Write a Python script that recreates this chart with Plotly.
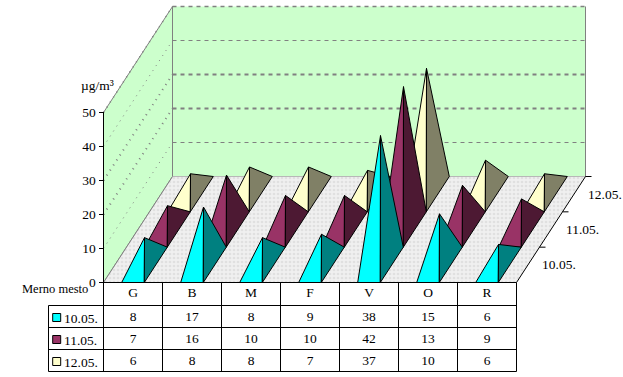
import plotly.graph_objects as go

categories = ["G", "B", "M", "F", "V", "O", "R"]
series_names = ["10.05.", "11.05.", "12.05."]
values_1005 = [8, 17, 8, 9, 38, 15, 6]
values_1105 = [7, 16, 10, 10, 42, 13, 9]
values_1205 = [6, 8, 8, 7, 37, 10, 6]
y_ticks = [0, 10, 20, 30, 40, 50]
series_values = [values_1005, values_1105, values_1205]
front_colors = ["#00FFFF", "#993366", "#FFFFCC"]
side_colors = ["#008080", "#4D1933", "#808066"]
grid_widths = [1, 2, 2, 1, 1.5]

W, H = 623, 377
PX_CAT = 59.0        # pixels per category
PX_VAL = 3.4         # pixels per value unit
X0, Y0 = 103.5, 282.5  # pixel position of the origin
DEP_X = 23.0 / PX_CAT      # oblique shift per series
DEP_Y = 35.33 / PX_VAL
BAR = 0.383
FONT = "Liberation Serif"
FS = 13.5
N = len(categories)
NS = len(series_names)
YMAX = y_ticks[-1]


def P(cat, dep, val):
    return cat + dep * DEP_X, val + dep * DEP_Y


def tx(px):
    return (px - X0) / PX_CAT


def ty(py):
    return (Y0 - py) / PX_VAL


fig = go.Figure()


def poly(points, fill=None, line=None, width=1, dash=None, closed=True, pattern=None):
    xs = [p[0] for p in points]
    ys = [p[1] for p in points]
    if closed:
        xs.append(xs[0])
        ys.append(ys[0])
    kw = dict(fillpattern=pattern) if pattern else {}
    fig.add_trace(go.Scatter(
        x=xs, y=ys, mode="lines", hoverinfo="skip", showlegend=False,
        cliponaxis=False, fill="toself" if fill else None,
        fillcolor=fill,
        line=dict(color=line or "rgba(0,0,0,0)", width=width, dash=dash, simplify=False),
        **kw,
    ))


GRAY = "#808080"
WALL = "#CCFFCC"
# walls and floor
poly([P(0, 0, 0), P(0, NS, 0), P(0, NS, YMAX), P(0, 0, YMAX)], WALL, GRAY)
poly([P(0, NS, YMAX), P(0, NS, 0), P(N, NS, 0), P(N, NS, YMAX)], WALL, GRAY, closed=False)
poly([P(0, 0, 0), P(N, 0, 0), P(N, NS, 0), P(0, NS, 0)], "#EDECEC", None,
     pattern=dict(shape=".", fgcolor="#E0E0E0", bgcolor="#F0F0F0", size=4, solidity=0.35, fillmode="replace"))
poly([P(0, 0, 0), P(0, NS, 0)], None, GRAY, closed=False)
poly([P(N, 0, 0), P(N, NS, 0)], None, "#000000", closed=False)

# gridlines
for v, gw in zip(y_ticks[1:], grid_widths):
    poly([P(0, 0, v), P(0, NS, v)], None, GRAY, dash="1px,5px", closed=False, width=gw)
    poly([P(0, NS, v), P(N, NS, v)], None, GRAY, dash="4px,4px", closed=False, width=gw)

# pyramids, back row first
for k in reversed(range(NS)):
    for i in range(N):
        v = series_values[k][i]
        l = i + 0.5 - BAR / 2
        r = i + 0.5 + BAR / 2
        apex = P(i + 0.5, k + 0.5, v)
        fl, fr, br = P(l, k, 0), P(r, k, 0), P(r, k + 1, 0)
        poly([fl, fr, apex], front_colors[k], "#000000")
        poly([fr, br, apex], side_colors[k], "#000000")

# y axis line
poly([(0, 0), (0, YMAX)], None, "#000000", closed=False)

# depth axis ticks and labels
for k in range(NS):
    px_, py_ = P(N, k + 1, 0)
    poly([(px_, py_), (px_ + 6 / PX_CAT, py_)], None, "#000000", closed=False)
    lx, ly = P(N, k + 0.5, 0)
    fig.add_annotation(x=lx + 31 / PX_CAT, y=ly, text=series_names[k], showarrow=False,
                       font=dict(family=FONT, size=FS, color="#000000"))

# data table
row_edges = [ty(305.5), ty(327.5), ty(349.5), ty(371.5)]
row_left = tx(48.5)
poly([(0, 0), (N, 0)], None, "#000000", closed=False)
for c in range(N + 1):
    poly([(c, 0), (c, row_edges[-1])], None, "#000000", closed=False)
poly([(row_left, row_edges[0]), (row_left, row_edges[-1])], None, "#000000", closed=False)
for e in row_edges:
    poly([(row_left, e), (N, e)], None, "#000000", closed=False)

TEXT_NUDGE = 1.5 / PX_VAL
for k in range(NS):
    yc = (row_edges[k] + row_edges[k + 1]) / 2
    fig.add_trace(go.Scatter(
        x=[i + 0.5 for i in range(N)], y=[yc - TEXT_NUDGE] * N, mode="text",
        text=[str(v) for v in series_values[k]], cliponaxis=False,
        textfont=dict(family=FONT, size=FS, color="#000000"),
        hoverinfo="skip", showlegend=False,
    ))
    fig.add_trace(go.Scatter(
        x=[tx(56.7)], y=[yc - 1 / PX_VAL], mode="markers", cliponaxis=False,
        marker=dict(symbol="square", size=8, color=front_colors[k],
                    line=dict(color="#000000", width=1)),
        hoverinfo="skip", showlegend=False,
    ))
    fig.add_annotation(x=tx(62), y=yc - TEXT_NUDGE, text=series_names[k], xanchor="left", showarrow=False,
                       font=dict(family=FONT, size=FS, color="#000000"))

fig.add_annotation(x=tx(90), y=ty(289), text="Merno mesto", xanchor="right", showarrow=False,
                   font=dict(family=FONT, size=12.5, color="#000000"))
fig.add_annotation(x=tx(79), y=ty(85), text="µg/m³", xanchor="left", showarrow=False,
                   font=dict(family=FONT, size=FS, color="#000000"))

fig.update_layout(
    width=W, height=H, margin=dict(l=0, r=0, t=0, b=0),
    paper_bgcolor="#FFFFFF", plot_bgcolor="rgba(0,0,0,0)", showlegend=False,
    xaxis=dict(
        domain=[0, 1], range=[tx(0), tx(W)], showgrid=False, zeroline=False, automargin=False,
        anchor="free", position=(H - Y0) / H,
        showline=False, tickmode="array", tickvals=[i + 0.5 for i in range(N)],
        ticktext=categories, ticks="", tickfont=dict(family=FONT, size=FS, color="#000000"),
        fixedrange=True,
    ),
    yaxis=dict(
        domain=[0, 1], range=[ty(H), ty(0)], showgrid=False, zeroline=False, automargin=False,
        anchor="free", position=X0 / W,
        showline=False, tickmode="array", tickvals=y_ticks, ticks="outside", ticklen=5,
        tickcolor="#000000", tickfont=dict(family=FONT, size=FS, color="#000000"),
        fixedrange=True,
    ),
)

fig.write_html("out.html", post_script="document.body.style.margin='0';",
               config=dict(displayModeBar=False))
